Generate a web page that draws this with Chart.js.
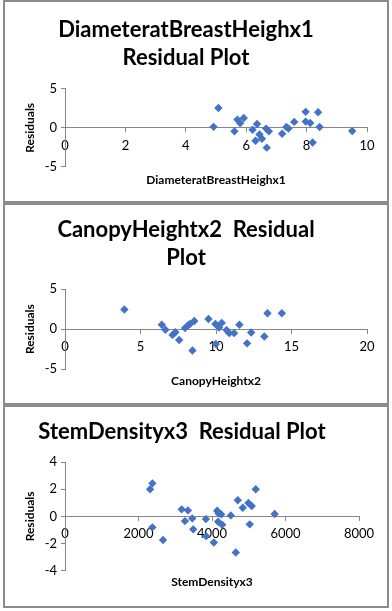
<!DOCTYPE html>
<html>
<head>
<meta charset="utf-8">
<script src="https://cdn.jsdelivr.net/npm/chart.js@4/dist/chart.umd.min.js"></script>
<style>
  body { margin: 0; background: #fff; width: 392px; height: 611px; position: relative; overflow: hidden; }
  .panel { position: absolute; left: 3px; width: 386px; box-sizing: border-box; border: 2px solid #8c8c8c; background: #fff; }
  .panel canvas { display: block; }
</style>
</head>
<body>
<div class="panel" style="top:0px;height:203px"><canvas id="chart1" width="382" height="199"></canvas></div>
<div class="panel" style="top:203px;height:202px"><canvas id="chart2" width="382" height="198"></canvas></div>
<div class="panel" style="top:405px;height:203px"><canvas id="chart3" width="382" height="199"></canvas></div>
<script>
// residuals vs DiameteratBreastHeighx1
const dbhX = [4.92, 5.08, 5.61, 5.71, 5.8, 5.92, 6.21, 6.36, 6.31, 6.44, 6.52, 6.66, 6.75, 6.68, 7.19, 7.33, 7.4, 7.59, 7.97, 7.97, 8.12, 8.2, 8.38, 8.43, 9.51];
const dbhY = [0.13, 2.54, -0.45, 1.06, 0.6, 1.27, -0.25, 0.5, -1.65, -0.85, -1.4, -0.1, -0.45, -2.54, -0.75, 0.1, -0.1, 0.76, 2.05, 0.8, 0.63, -1.88, 2.0, 0.1, -0.4];

// residuals vs CanopyHeightx2
const chX = [3.93, 6.41, 6.65, 7.12, 7.31, 7.56, 7.95, 8.12, 8.27, 8.56, 8.44, 9.5, 9.96, 9.99, 10.2, 10.38, 10.7, 10.88, 11.2, 11.55, 12.06, 12.33, 13.2, 13.41, 14.36];
const chY = [2.46, 0.55, -0.08, -0.72, -0.38, -1.36, 0.13, 0.42, 0.65, 1.02, -2.67, 1.27, 0.64, -1.86, 0.2, 0.78, -0.12, -0.5, -0.5, 0.55, -1.78, -0.42, -0.93, 1.99, 1.99];

// residuals vs StemDensityx3
const sdX = [2315, 2378, 2378, 2667, 3174, 3264, 3345, 3463, 3490, 3834, 3843, 4050, 4141, 4177, 4168, 4250, 4277, 4512, 4647, 4702, 4837, 4991, 5081, 5027, 5190, 5705];
const sdY = [2.0, 2.44, -0.81, -1.75, 0.52, -0.35, 0.44, -0.15, -0.96, -0.2, -1.46, -1.93, 0.42, 0.22, -0.4, 0.15, -0.62, 0.07, -2.67, 1.19, 0.64, 0.99, 0.77, -0.59, 2.0, 0.17];

const titles = [
  ["DiameteratBreastHeighx1", "Residual Plot"],
  ["CanopyHeightx2  Residual", "Plot"],
  ["StemDensityx3  Residual Plot"]
];
const xTitles = ["DiameteratBreastHeighx1", "CanopyHeightx2", "StemDensityx3"];
const yTitle = "Residuals";

const axisColor = "#868686";
const markColor = "#4472C4";
const fontName = "Lato, 'Open Sans', sans-serif";

const makeChart = (id, xs, ys, title, xTitle, xMax, xStep, yMax, yStep, pad) => {
  const ctx = document.getElementById(id).getContext("2d");
  const points = xs.map((x, i) => ({ x: x, y: ys[i] }));
  return new Chart(ctx, {
    type: "scatter",
    data: {
      datasets: [{
        data: points,
        pointStyle: "rectRot",
        pointRadius: 4.2,
        backgroundColor: markColor,
        borderColor: markColor,
        borderWidth: 0
      }]
    },
    options: {
      responsive: false,
      animation: false,
      layout: { padding: { left: 0, right: pad.right, top: 0, bottom: 0 } },
      plugins: {
        legend: { display: false },
        tooltip: { enabled: false },
        title: {
          display: true,
          text: title,
          color: "#000",
          font: { family: fontName, size: 22, weight: "bold", lineHeight: 1.27 },
          padding: { top: pad.titleTop, bottom: pad.titleBottom }
        },
        subtitle: {
          display: true,
          position: "bottom",
          fullSize: false,
          text: xTitle,
          color: "#000",
          font: { family: fontName, size: 12, weight: "bold", lineHeight: 1.2 },
          padding: { top: pad.subTop, bottom: pad.subBottom }
        }
      },
      scales: {
        x: {
          type: "linear",
          position: { y: 0 },
          min: 0,
          max: xMax,
          ticks: {
            stepSize: xStep,
            color: "#000",
            padding: 6,
            font: { family: fontName, size: 13 },
            callback: (v) => String(v)
          },
          grid: { display: true, drawOnChartArea: false, drawTicks: true, tickLength: 4, color: axisColor },
          border: { color: axisColor, width: 1 }
        },
        y: {
          type: "linear",
          position: "left",
          min: -yMax,
          max: yMax,
          afterFit: (scale) => { scale.width = 60; },
          ticks: {
            stepSize: yStep,
            color: "#000",
            padding: 4,
            font: { family: fontName, size: 13 },
            callback: (v) => String(v)
          },
          grid: { display: true, drawOnChartArea: false, drawTicks: true, tickLength: 4, color: axisColor },
          border: { color: axisColor, width: 1 },
          title: {
            display: true,
            text: yTitle,
            color: "#000",
            font: { family: fontName, size: 12, weight: "bold", lineHeight: 1.2 },
            padding: { top: 18, bottom: 0 }
          }
        }
      }
    }
  });
};

makeChart("chart1", dbhX, dbhY, titles[0], xTitles[0], 10, 2, 5, 5,
  { right: 20, titleTop: 14, titleBottom: 17, subTop: 5.8, subBottom: 14 });
makeChart("chart2", chX, chY, titles[1], xTitles[1], 20, 5, 5, 5,
  { right: 20, titleTop: 11, titleBottom: 17.3, subTop: 4.5, subBottom: 15 });
makeChart("chart3", sdX, sdY, titles[2], xTitles[2], 8000, 2000, 4, 2,
  { right: 28, titleTop: 11, titleBottom: 16.3, subTop: 4.8, subBottom: 16.3 });
</script>
</body>
</html>
